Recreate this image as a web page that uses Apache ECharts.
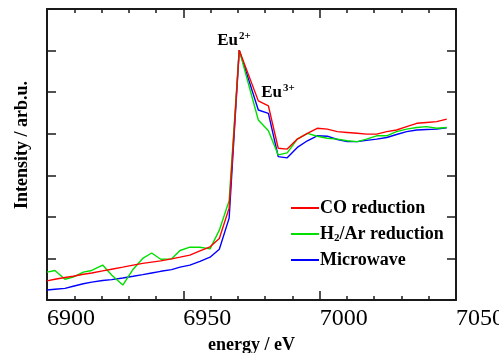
<!DOCTYPE html>
<html>
<head>
<meta charset="utf-8">
<script src="https://cdn.jsdelivr.net/npm/echarts@6/dist/echarts.min.js"></script>
<style>
  html, body { margin: 0; padding: 0; background: #fff; }
  #chart { width: 499px; height: 353px; }
</style>
</head>
<body>
<div id="chart"></div>
<script>
// energy grid shared by the three scans (eV)
const energy = [
  6900.0, 6902.9, 6906.6, 6909.6, 6913.3, 6916.4, 6920.4, 6923.7, 6927.8, 6931.6,
  6935.1, 6938.4, 6941.7, 6945.7, 6948.8, 6952.4, 6956.1, 6959.8, 6963.2, 6966.8,
  6970.5,
  6977.5, 6981.2, 6984.8, 6988.1, 6991.8, 6995.5, 6999.1, 7002.8, 7006.5, 7010.1,
  7013.8, 7017.2, 7020.9, 7024.6, 7028.2, 7031.9, 7035.6, 7039.2, 7042.9, 7046.6
];

const coReduction = [
  0.46, 0.50, 0.54, 0.57, 0.62, 0.65, 0.70, 0.74, 0.79, 0.84,
  0.88, 0.91, 0.94, 0.99, 1.03, 1.08, 1.18, 1.28, 1.48, 2.21,
  6.01,
  4.79, 4.67, 3.65, 3.63, 3.87, 4.01, 4.13, 4.11, 4.05, 4.03,
  4.01, 3.99, 3.99, 4.05, 4.09, 4.17, 4.25, 4.27, 4.29, 4.35
];

const h2ArReduction = [
  0.67, 0.71, 0.50, 0.55, 0.67, 0.71, 0.84, 0.60, 0.36, 0.74,
  1.00, 1.13, 0.98, 0.99, 1.19, 1.27, 1.27, 1.23, 1.68, 2.39,
  6.01,
  4.33, 4.07, 3.49, 3.54, 3.87, 4.01, 3.94, 3.89, 3.87, 3.83,
  3.81, 3.87, 3.95, 3.95, 4.05, 4.11, 4.15, 4.17, 4.13, 4.15
];

const microwave = [
  0.24, 0.26, 0.28, 0.33, 0.39, 0.43, 0.47, 0.49, 0.53, 0.57,
  0.61, 0.65, 0.69, 0.73, 0.79, 0.84, 0.93, 1.03, 1.22, 1.97,
  6.01,
  4.57, 4.49, 3.45, 3.42, 3.67, 3.83, 3.95, 3.94, 3.86, 3.81,
  3.81, 3.84, 3.87, 3.91, 3.98, 4.05, 4.09, 4.10, 4.11, 4.14
];

const seriesNames = ['CO reduction', 'H2/Ar reduction', 'Microwave'];
const xTicks = [6900, 7050, 50];   // min, max, interval
const yTicks = [0, 7, 1];

const serif = '"Liberation Serif", "DejaVu Serif", serif';
const axisColor = '#1a1a1a';

const chart = echarts.init(document.getElementById('chart'), null, { renderer: 'canvas' });

const pairs = (ys) => energy.map((e, i) => [e, ys[i]]);

function frameX(position, withLabels) {
    return {
        type: 'value',
        position: position,
        min: xTicks[0],
        max: xTicks[1],
        interval: xTicks[2],
        axisLine: { show: true, onZero: false, lineStyle: { color: axisColor, width: 2 } },
        axisTick: { show: true, inside: true, length: 9, lineStyle: { color: axisColor, width: 1.5 } },
        minorTick: { show: true, splitNumber: 5, length: 4, lineStyle: { color: axisColor, width: 1.5 } },
        splitLine: { show: false },
        axisLabel: {
            show: withLabels,
            align: 'left',
            margin: 7,
            color: '#000',
            fontFamily: serif,
            fontSize: 24,
            showMinLabel: true,
            showMaxLabel: true,
            formatter: (v) => String(v)
        },
        name: withLabels ? 'energy / eV' : '',
        nameLocation: 'middle',
        nameGap: 34,
        nameTextStyle: { color: '#000', fontFamily: serif, fontSize: 18, fontWeight: 'bold' }
    };
}

function frameY(position) {
    return {
        type: 'value',
        position: position,
        min: yTicks[0],
        max: yTicks[1],
        interval: yTicks[2],
        axisLine: { show: true, onZero: false, lineStyle: { color: axisColor, width: 2 } },
        axisTick: { show: true, inside: true, length: 9, lineStyle: { color: axisColor, width: 1.5 } },
        splitLine: { show: false },
        axisLabel: { show: false }
    };
}

function line(name, ys, color) {
    return {
        name: name,
        type: 'line',
        data: pairs(ys),
        showSymbol: false,
        symbol: 'none',
        lineStyle: { color: color, width: 1.4 },
        itemStyle: { color: color }
    };
}

const supRich = {
    b: { fontFamily: serif, fontSize: 17, fontWeight: 'bold', color: '#000' },
    sup: { fontFamily: serif, fontSize: 11, fontWeight: 'bold', color: '#000', verticalAlign: 'top', padding: [0, 0, 8, 1] }
};

const series = [
    line(seriesNames[2], microwave, '#0000ff'),
    line(seriesNames[1], h2ArReduction, '#00e000'),
    line(seriesNames[0], coReduction, '#ff0000')
];

series[2].markPoint = {
    symbol: 'circle',
    symbolSize: 0,
    silent: true,
    label: { show: true, position: 'inside', rich: supRich },
    data: [
        { coord: [6968.6, 6.25], label: { formatter: '{b|Eu}{sup|2+}' } },
        { coord: [6984.7, 5.0], label: { formatter: '{b|Eu}{sup|3+}' } }
    ]
};

chart.setOption({
    animation: false,
    backgroundColor: '#fff',
    grid: { left: 47, right: 43, top: 9, bottom: 53, outerBoundsMode: 'none', containLabel: false },
    xAxis: [frameX('bottom', true), frameX('top', false)],
    yAxis: [frameY('left'), frameY('right')],
    legend: {
        data: seriesNames,
        orient: 'vertical',
        left: 286,
        top: 193,
        itemWidth: 28,
        itemHeight: 2,
        itemGap: 6,
        icon: 'rect',
        align: 'left',
        textStyle: {
            color: '#000',
            fontFamily: serif,
            fontSize: 18,
            fontWeight: 'bold',
            lineHeight: 20,
            padding: [0, 0, 0, -4],
            rich: {
                n: { fontFamily: serif, fontSize: 18, fontWeight: 'bold', color: '#000' },
                s: { fontFamily: serif, fontSize: 11, fontWeight: 'bold', color: '#000', verticalAlign: 'bottom', padding: [6, 0, 0, 0] }
            }
        },
        formatter: (name) => name === 'H2/Ar reduction' ? '{n|H}{s|2}{n|/Ar reduction}' : '{n|' + name + '}'
    },
    graphic: [
        {
            type: 'text',
            x: 22,
            y: 145,
            rotation: Math.PI / 2,
            style: {
                text: 'Intensity / arb.u.',
                fill: '#000',
                font: 'bold 18px ' + serif,
                textAlign: 'center',
                textVerticalAlign: 'middle'
            }
        }
    ],
    series: series
});
</script>
</body>
</html>
